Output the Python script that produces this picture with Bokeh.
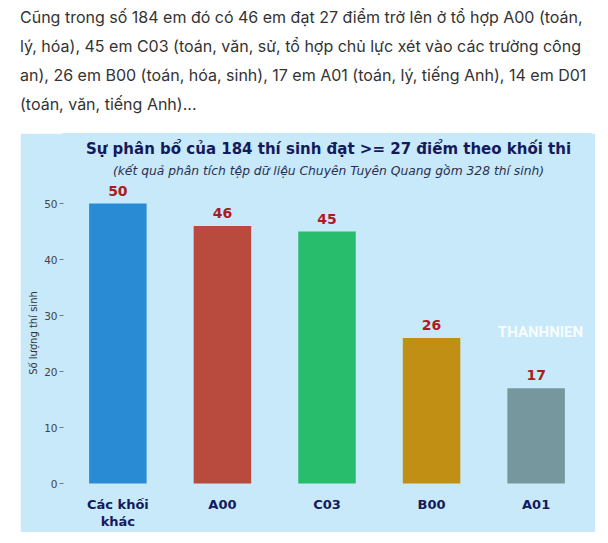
from bokeh.plotting import figure
from bokeh.models import ColumnDataSource, Range1d, FactorRange, Label, Div, FixedTicker
from bokeh.layouts import column
from bokeh.embed import file_html
from bokeh.resources import INLINE
from bokeh.core.properties import value

# ---- data ----
categories = ["Các khối khác", "A00", "C03", "B00", "A01"]
tick_labels = ["Các khối\nkhác", "A00", "C03", "B00", "A01"]
counts = [50, 46, 45, 26, 17]
bar_colors = ["#2a8bd5", "#b84b3e", "#27bd6c", "#c08f13", "#77979f"]
y_ticks = [0, 10, 20, 30, 40, 50]

paragraph_lines = [
    "Cũng trong số 184 em đó có 46 em đạt 27 điểm trở lên ở tổ hợp A00 (toán,",
    "lý, hóa), 45 em C03 (toán, văn, sử, tổ hợp chủ lực xét vào các trường công",
    "an), 26 em B00 (toán, hóa, sinh), 17 em A01 (toán, lý, tiếng Anh), 14 em D01",
    "(toán, văn, tiếng Anh)...",
]
title_text = "Sự phân bổ của 184 thí sinh đạt >= 27 điểm theo khối thi"
subtitle_text = "(kết quả phân tích tệp dữ liệu Chuyên Tuyên Quang gồm 328 thí sinh)"
y_label = "Số lượng thí sinh"

BG = "#c8e9f9"
FONT = "DejaVu Sans"

div = Div(
    text='<div style="font-family:Inter, sans-serif; font-size:16px; line-height:29px; '
         'color:#333; white-space:nowrap; padding:3px 0 0 20px;">'
         + "<br>".join(paragraph_lines) + "</div>",
    width=608, height=133, margin=(0, 0, 0, 0),
)

source = ColumnDataSource(dict(
    cat=categories, val=counts, color=bar_colors, label=[str(v) for v in counts],
    tick=tick_labels, zero=[0] * len(counts),
))

p = figure(
    width=575, height=399,
    x_range=FactorRange(factors=categories, range_padding=0.008),
    y_range=Range1d(-8.75, 62.5),
    output_backend="svg", toolbar_location=None,
    min_border_left=43, min_border_right=5, min_border_top=0, min_border_bottom=0,
    background_fill_color=BG, border_fill_color=BG,
    outline_line_color=BG, outline_line_width=2,
)
p.margin = (0, 0, 0, 20)
p.xaxis.visible = False
p.grid.visible = False

p.vbar(x="cat", top="val", width=0.55, color="color", line_color=None, source=source)
p.text(x="cat", y="val", text="label", source=source,
       text_align="center", text_baseline="middle", y_offset=-13,
       text_font=value(FONT), text_font_style="bold", text_font_size="14px",
       text_color="#a81c22")
# category labels under the bars
p.text(x="cat", y="zero", text="tick", source=source,
       text_align="center", text_baseline="top", y_offset=13,
       text_font=value(FONT), text_font_style="bold", text_font_size="13px",
       text_line_height=1.15, text_color="#141a5c")

# y axis
ya = p.yaxis[0]
ya.ticker = FixedTicker(ticks=y_ticks)
ya.axis_line_color = None
ya.minor_tick_line_color = None
ya.major_tick_in = 0
ya.major_tick_out = 4
ya.major_tick_line_color = "#777777"
ya.major_label_standoff = 2
ya.major_label_text_font = FONT
ya.major_label_text_font_size = "10.5px"
ya.major_label_text_color = "#444444"
ya.axis_label = y_label
ya.axis_label_text_font = FONT
ya.axis_label_text_font_style = "normal"
ya.axis_label_text_font_size = "10px"
ya.axis_label_text_color = "#333333"
ya.axis_label_standoff = 2

# titles (screen units measured from the frame's bottom-left corner)
p.add_layout(Label(x=265, y=384, x_units="screen", y_units="screen", text=title_text,
                   text_align="center", text_baseline="middle",
                   text_font=FONT, text_font_style="bold", text_font_size="15px",
                   text_color="#141a5c"))
p.add_layout(Label(x=265, y=362, x_units="screen", y_units="screen", text=subtitle_text,
                   text_align="center", text_baseline="middle",
                   text_font=FONT, text_font_style="italic", text_font_size="12.3px",
                   text_color="#2a2f50"))
# watermark
p.add_layout(Label(x=477, y=201, x_units="screen", y_units="screen", text="THANHNIEN",
                   text_align="center", text_baseline="middle",
                   text_font="Roboto", text_font_style="bold",
                   text_font_size="15px", text_color="white", text_alpha=0.9))

layout = column(div, p, spacing=0)
open("out.html", "w").write(file_html(layout, INLINE))
